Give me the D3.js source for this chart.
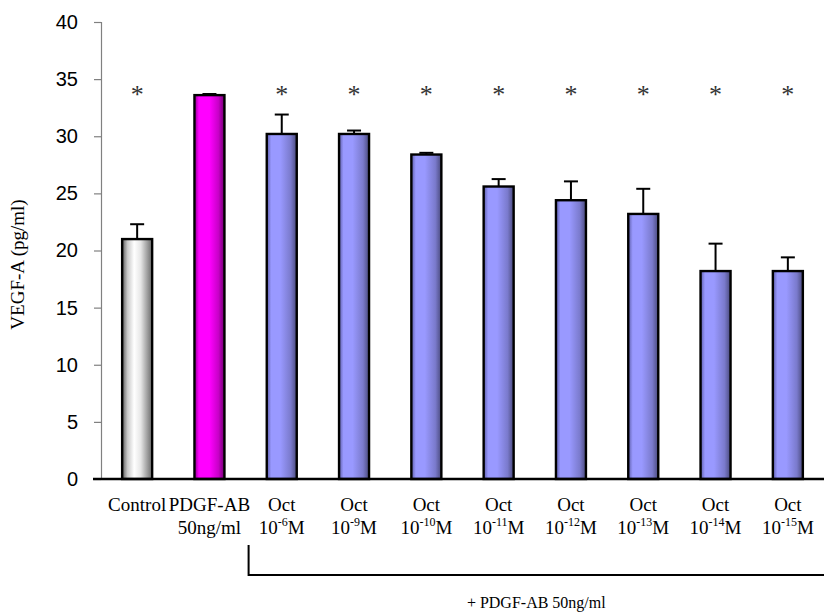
<!DOCTYPE html>
<html>
<head>
<meta charset="utf-8">
<script src="https://cdn.jsdelivr.net/npm/d3@7"></script>
<style>
  html, body { margin: 0; padding: 0; background: #fff; }
  svg { display: block; }
</style>
</head>
<body>
<svg id="chart" width="824" height="614"></svg>
<script>
// Category labels: first line, second-line base text, superscript exponent
const categories = ["Control", "PDGF-AB", "Oct6", "Oct9", "Oct10", "Oct11", "Oct12", "Oct13", "Oct14", "Oct15"];
const labelTop = ["Control", "PDGF-AB", "Oct", "Oct", "Oct", "Oct", "Oct", "Oct", "Oct", "Oct"];
const labelBottom = ["", "50ng/ml", "10", "10", "10", "10", "10", "10", "10", "10"];
const labelExp = ["", "", "-6", "-9", "-10", "-11", "-12", "-13", "-14", "-15"];
// VEGF-A mean and SEM (pg/ml)
const means = [21.0, 33.6, 30.2, 30.2, 28.4, 25.6, 24.4, 23.2, 18.2, 18.2];
const errors = [1.3, 0.1, 1.7, 0.3, 0.15, 0.65, 1.65, 2.2, 2.4, 1.2];
const significant = [true, false, true, true, true, true, true, true, true, true];
const fills = ["gray", "magenta", "blue", "blue", "blue", "blue", "blue", "blue", "blue", "blue"];
const yTicks = [0, 5, 10, 15, 20, 25, 30, 35, 40];

const svg = d3.select("#chart");
const plotLeft = 101, plotRight = 824, plotTop = 22, plotBottom = 479;
const serif = "'Liberation Serif', 'Times New Roman', serif";

const x = d3.scaleBand().domain(categories).range([plotLeft, plotRight])
  .paddingInner(0.585).paddingOuter(0.2925);
const y = d3.scaleLinear().domain([0, 40]).range([plotBottom, plotTop]);

// Horizontal shading for the bars
const defs = svg.append("defs");
const gradients = {
  gray: [[0, "#5a5a5a"], [0.18, "#c8c8c8"], [0.4, "#ffffff"], [0.62, "#e6e6e6"], [1, "#6a6a6a"]],
  magenta: [[0, "#8a008a"], [0.15, "#ff00ff"], [0.5, "#ff00ff"], [0.8, "#c800c8"], [1, "#700070"]],
  blue: [[0, "#5c5ca8"], [0.15, "#9999ff"], [0.45, "#9999ff"], [0.8, "#7a7acc"], [1, "#4a4a7c"]]
};
Object.entries(gradients).forEach(([name, stops]) => {
  const g = defs.append("linearGradient").attr("id", "grad-" + name)
    .attr("x1", "0%").attr("x2", "100%").attr("y1", "0%").attr("y2", "0%");
  stops.forEach(([o, c]) => g.append("stop").attr("offset", o).attr("stop-color", c));
});

// Y axis
const yAxis = svg.append("g").attr("transform", `translate(${plotLeft},0)`)
  .call(d3.axisLeft(y).tickValues(yTicks).tickSize(7).tickPadding(16));
yAxis.select(".domain").attr("stroke", "#808080").attr("stroke-width", 1.2);
yAxis.selectAll(".tick line").attr("stroke", "#808080").attr("stroke-width", 1.2);
yAxis.selectAll(".tick text")
  .attr("font-family", "'Liberation Sans', Arial, sans-serif")
  .attr("font-size", 20).attr("fill", "#000");

svg.append("text")
  .attr("transform", `translate(24,${(plotTop + plotBottom) / 2 + 14}) rotate(-90)`)
  .attr("text-anchor", "middle")
  .attr("font-family", serif)
  .attr("font-size", 19)
  .text("VEGF-A (pg/ml)");

// Bars
svg.append("g").selectAll("rect").data(categories).join("rect")
  .attr("x", d => x(d))
  .attr("y", (d, i) => y(means[i]))
  .attr("width", x.bandwidth())
  .attr("height", (d, i) => y(0) - y(means[i]))
  .attr("fill", (d, i) => `url(#grad-${fills[i]})`)
  .attr("stroke", "#000").attr("stroke-width", 2.4);

// Error bars (upper only)
const eb = svg.append("g").attr("stroke", "#000").attr("stroke-width", 2);
categories.forEach((c, i) => {
  const cx = x(c) + x.bandwidth() / 2;
  eb.append("line").attr("x1", cx).attr("x2", cx)
    .attr("y1", y(means[i])).attr("y2", y(means[i] + errors[i]));
  eb.append("line").attr("x1", cx - 7).attr("x2", cx + 7)
    .attr("y1", y(means[i] + errors[i])).attr("y2", y(means[i] + errors[i]));
});

// X axis baseline
svg.append("line").attr("x1", plotLeft - 8).attr("x2", plotRight)
  .attr("y1", plotBottom).attr("y2", plotBottom)
  .attr("stroke", "#000").attr("stroke-width", 2.5);

// Significance markers
svg.append("g").selectAll("text").data(categories.filter((c, i) => significant[i])).join("text")
  .attr("x", d => x(d) + x.bandwidth() / 2)
  .attr("y", 103)
  .attr("text-anchor", "middle")
  .attr("font-family", serif)
  .attr("font-size", 26).attr("fill", "#333")
  .text("*");

// Category labels
const lab = svg.append("g")
  .attr("font-family", serif)
  .attr("font-size", 19).attr("fill", "#000").attr("text-anchor", "middle");
categories.forEach((c, i) => {
  const cx = x(c) + x.bandwidth() / 2;
  lab.append("text").attr("x", cx).attr("y", 511).text(labelTop[i]);
  if (labelBottom[i]) {
    const t = lab.append("text").attr("x", cx).attr("y", 534);
    t.append("tspan").text(labelBottom[i]);
    if (labelExp[i]) {
      t.append("tspan").attr("font-size", 12).attr("dy", -8).text(labelExp[i]);
      t.append("tspan").attr("dy", 8).text("M");
    }
  }
});

// Bracket for the PDGF-AB co-treated group
const bx = x(categories[2]) - (x.step() - x.bandwidth()) / 2 + 3;
svg.append("path")
  .attr("d", `M${bx},545 V575 H${plotRight}`)
  .attr("fill", "none").attr("stroke", "#000").attr("stroke-width", 2);
svg.append("text")
  .attr("x", (bx + plotRight) / 2).attr("y", 608)
  .attr("text-anchor", "middle")
  .attr("font-family", serif)
  .attr("font-size", 16)
  .text("+ PDGF-AB 50ng/ml");
</script>
</body>
</html>
